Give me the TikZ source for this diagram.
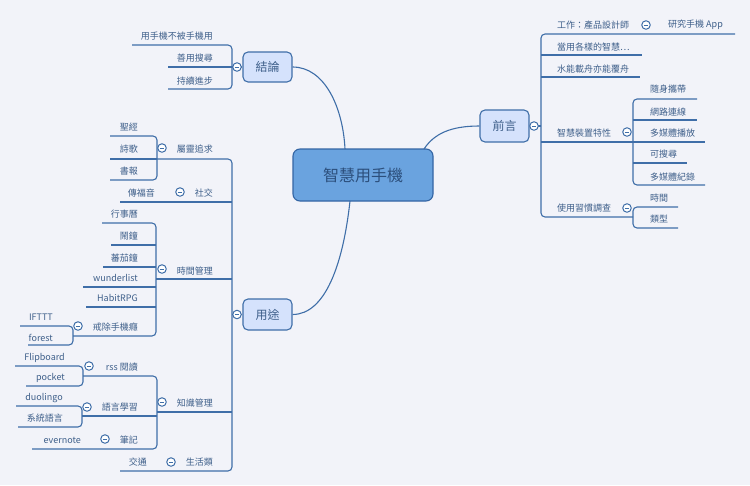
\documentclass[tikz,border=0pt]{standalone}
\usepackage{fontspec}
\setmainfont{Noto Sans CJK TC}
\definecolor{bg}{HTML}{F2F3F9}
\definecolor{lc}{HTML}{3F6EA8}
\definecolor{tc}{HTML}{3E5F8A}
\definecolor{boxfill}{HTML}{D5E2FC}
\definecolor{cfill}{HTML}{6AA3DF}
\definecolor{cborder}{HTML}{3465A4}
\definecolor{ctext}{HTML}{2C4F7C}
\tikzset{
  br/.style={draw=lc, line width=1.1pt, rounded corners=4pt},
  curveln/.style={draw=lc, line width=1.1pt},
  lbl/.style={font=\fontsize{9}{10}\selectfont, text=tc, inner sep=0pt},
  lft/.style={lbl, anchor=east},
  rgt/.style={lbl, anchor=west},
  subbox/.style={draw=lc, line width=1.1pt, fill=boxfill, rounded corners=5pt, inner sep=0pt,
    font=\fontsize{12}{14}\selectfont, text=tc},
  mainbox/.style={draw=cborder, line width=1.1pt, fill=cfill, rounded corners=7pt, inner sep=0pt,
    font=\fontsize{16}{18}\selectfont, text=ctext},
  col/.style={circle, draw=lc, line width=1pt, fill=white, minimum size=8.5pt, inner sep=0pt,
    path picture={\draw[lc, line width=0.8pt] ([xshift=-2.2pt]path picture bounding box.center) -- ([xshift=2.2pt]path picture bounding box.center);}}
}
\begin{document}
\begin{tikzpicture}[x=1pt,y=-1pt]
\fill[bg] (0,0) rectangle (750,485);
\useasboundingbox (0,0) rectangle (750,485);

% main boxes
\node[mainbox, minimum width=140pt, minimum height=52pt] (center) at (363,175) {智慧用手機};
\node[subbox, minimum width=49pt, minimum height=30pt] (jielun) at (267.5,67) {結論};
\node[subbox, minimum width=49pt, minimum height=32pt] (qianyan) at (504.5,126) {前言};
\node[subbox, minimum width=49pt, minimum height=31pt] (yongtu) at (267.5,314.5) {用途};

% curves from center
\coordinate (cTop) at (345,149);
\coordinate (cTR) at (424,149);
\coordinate (cBot) at (350,201);
\draw[curveln] (cTop) .. controls (343,108) and (325,67) .. (jielun.east);
\draw[curveln] (cTR) .. controls (434,134) and (450,126) .. (qianyan.west);
\draw[curveln] (cBot) .. controls (343,265) and (325,314.5) .. (yongtu.east);

% ---------- 結論 ----------
\draw[br] (132,45) -- (232,45) -- (232,89) -- (168,89);
\draw[br] (168,67) -- (jielun.west);
\node[lft] (j1) at (213,36) {用手機不被手機用};
\node[lft] (j2) at (213,58) {善用搜尋};
\node[lft] (j3) at (213,81) {持續進步};
\node[col] (cj) at (237,67) {};

% ---------- 前言 ----------
\draw[br] (735,34) -- (541,34) -- (541,217) -- (633,217);
\draw[br] (qianyan.east) -- (541,126);
\draw[br] (541,55) -- (642,55);
\draw[br] (541,77) -- (640,77);
\draw[br] (541,142) -- (705,142);
\draw[br] (697,99) -- (633,99) -- (633,185) -- (705,185);
\draw[br] (633,120) -- (697,120);
\draw[br] (633,163) -- (687,163);
\draw[br] (678,207) -- (633,207) -- (633,228) -- (678,228);
\node[rgt] (q1) at (557,25) {工作：產品設計師};
\node[rgt] (q1a) at (668,25) {研究手機 App};
\node[rgt] (q2) at (557,47) {當用各樣的智慧…};
\node[rgt] (q3) at (557,69) {水能載舟亦能覆舟};
\node[rgt] (q4) at (557,133) {智慧裝置特性};
\node[rgt] (q4a) at (650,89) {隨身攜帶};
\node[rgt] (q4b) at (650,112) {網路連線};
\node[rgt] (q4c) at (650,133) {多媒體播放};
\node[rgt] (q4d) at (650,154) {可搜尋};
\node[rgt] (q4e) at (650,177) {多媒體紀錄};
\node[rgt] (q5) at (557,208) {使用習慣調查};
\node[rgt] (q5a) at (650,198) {時間};
\node[rgt] (q5b) at (650,219) {類型};
\node[col] (cq) at (534,126) {};
\node[col] (cq1) at (646,25) {};
\node[col] (cq4) at (627,132) {};
\node[col] (cq5) at (627,208) {};

% ---------- 用途 ----------
\draw[br] (157,159) -- (232,159) -- (232,471) -- (120,471);
\draw[br] (120,202) -- (232,202);
\draw[br] (156,279) -- (232,279);
\draw[br] (157,412) -- (232,412);
\draw[br] (232,314.5) -- (yongtu.west);
% 屬靈追求
\draw[br] (110,136) -- (157,136) -- (157,180) -- (110,180);
\draw[br] (110,159) -- (157,159);
% 時間管理
\draw[br] (102,223) -- (156,223) -- (156,336) -- (73,336);
\draw[br] (111,245) -- (156,245);
\draw[br] (103,267) -- (156,267);
\draw[br] (83,287) -- (156,287);
\draw[br] (86,307) -- (156,307);
\draw[br] (20,326) -- (73,326) -- (73,345) -- (28,345);
% 知識管理
\draw[br] (83,376) -- (157,376) -- (157,449) -- (32,449);
\draw[br] (82,416) -- (157,416);
\draw[br] (15,366) -- (83,366) -- (83,386) -- (26,386);
\draw[br] (16,406) -- (82,406) -- (82,427) -- (18,427);

\node[lft] (y1) at (213,149) {屬靈追求};
\node[lft] (y1a) at (138,127) {聖經};
\node[lft] (y1b) at (138,149) {詩歌};
\node[lft] (y1c) at (138,171) {書報};
\node[lft] (y2) at (213,193) {社交};
\node[lft] (y2a) at (155,193) {傳福音};
\node[lft] (y3) at (213,271) {時間管理};
\node[lft] (y3a) at (138,214) {行事曆};
\node[lft] (y3b) at (138,236) {鬧鐘};
\node[lft] (y3c) at (138,258) {蕃茄鐘};
\node[lft] (y3d) at (138,278) {wunderlist};
\node[lft] (y3e) at (138,298) {HabitRPG};
\node[lft] (y3f) at (138,327) {戒除手機癮};
\node[lft] (y3f1) at (53,317) {IFTTT};
\node[lft] (y3f2) at (53,338) {forest};
\node[lft] (y4) at (213,403) {知識管理};
\node[lft] (y4a) at (138,367) {rss 閱讀};
\node[lft] (y4a1) at (65,358) {Flipboard};
\node[lft] (y4a2) at (65,378) {pocket};
\node[lft] (y4b) at (138,407) {語言學習};
\node[lft] (y4b1) at (63,398) {duolingo};
\node[lft] (y4b2) at (63,418) {系統語言};
\node[lft] (y4c) at (138,440) {筆記};
\node[lft] (y4c1) at (81,440) {evernote};
\node[lft] (y5) at (213,462) {生活類};
\node[lft] (y5a) at (147,462) {交通};

\node[col] (cy) at (237,314.5) {};
\node[col] (cy1) at (162,148) {};
\node[col] (cy2) at (180,192) {};
\node[col] (cy3) at (162,269) {};
\node[col] (cy3f) at (78,326) {};
\node[col] (cy4) at (162,402) {};
\node[col] (cy4a) at (89,366) {};
\node[col] (cy4b) at (87,407) {};
\node[col] (cy4c) at (105,439) {};
\node[col] (cy5) at (171,462) {};
\end{tikzpicture}
\end{document}
